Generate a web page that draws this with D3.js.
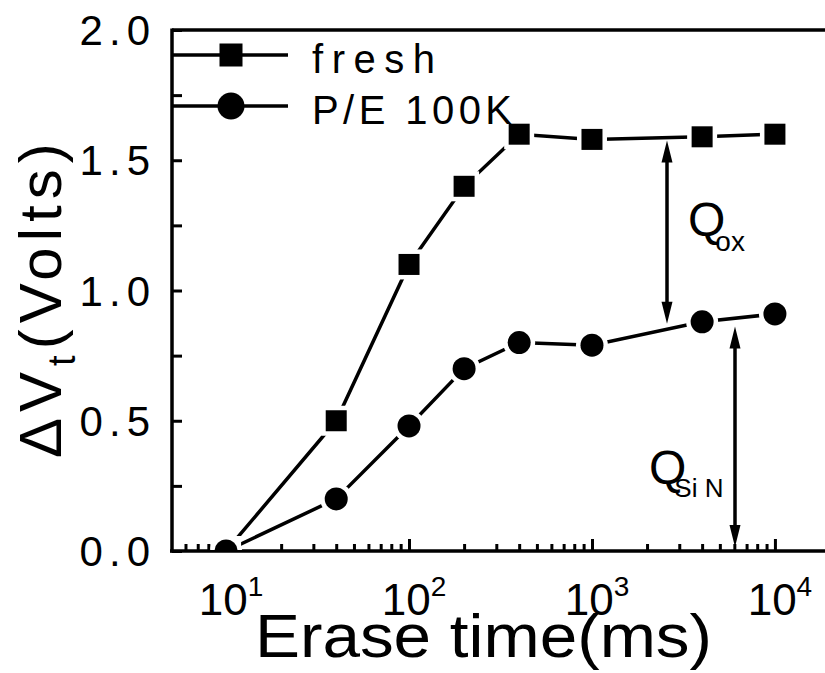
<!DOCTYPE html>
<html>
<head>
<meta charset="utf-8">
<script src="https://cdn.jsdelivr.net/npm/d3@7"></script>
<style>
  body { margin: 0; background: #fff; }
  text { font-family: "Liberation Sans", Arial, sans-serif; fill: #000; }
</style>
</head>
<body>
<div id="canvas"></div>
<script>
const width = 825;
const height = 673;

// data
const eraseTime = [10, 40, 100, 200, 400, 1000, 4000, 10000];
const fresh = [0.0, 0.5, 1.1, 1.4, 1.6, 1.58, 1.59, 1.6];
const pe100k = [0.0, 0.2, 0.48, 0.7, 0.8, 0.79, 0.88, 0.91];
const seriesNames = ["fresh", "P/E 100K"];
const yTicks = [0, 0.5, 1.0, 1.5, 2.0];
const yMinor = [0.25, 0.75, 1.25, 1.75];
const xDecades = [10, 100, 1000, 10000];

const svg = d3.select("#canvas")
    .append("svg")
    .attr("width", width)
    .attr("height", height);

const x = d3.scaleLog().domain([5, 20000]).range([171, 830]);
const y = d3.scaleLinear().domain([0, 2]).range([551, 30]);

svg.append("defs").append("clipPath")
    .attr("id", "plotclip")
    .append("rect")
    .attr("x", 172).attr("y", 20)
    .attr("width", 700).attr("height", 530);

// minor ticks on the log axis
let xMinor = [];
[1, 10, 100, 1000, 10000].forEach(function(d) {
    for (let k = 2; k <= 9; k++) {
        let v = d * k;
        if (v > 5 && v < 20000) xMinor.push(v);
    }
});

// x axis (ticks inside)
const xAxis = svg.append("g")
    .attr("transform", `translate(0,${y(0)})`);

xAxis.call(d3.axisBottom(x).tickValues(xDecades).tickSize(-12).tickFormat(""));
xAxis.call(g => g.select(".domain").remove());
xAxis.selectAll(".tick line").attr("stroke", "#000").attr("stroke-width", 3);

const xAxisMinor = svg.append("g")
    .attr("transform", `translate(0,${y(0)})`);
xAxisMinor.call(d3.axisBottom(x).tickValues(xMinor).tickSize(-7).tickFormat(""));
xAxisMinor.call(g => g.select(".domain").remove());
xAxisMinor.selectAll(".tick line").attr("stroke", "#000").attr("stroke-width", 3);

svg.append("line")
    .attr("x1", 170).attr("x2", width)
    .attr("y1", y(0)).attr("y2", y(0))
    .attr("stroke", "#000").attr("stroke-width", 3.5);

// x tick labels 10^n
xDecades.forEach(function(d, i) {
    let t = svg.append("text")
        .attr("x", x(d) + 5)
        .attr("y", 615)
        .attr("text-anchor", "middle")
        .attr("font-size", 44);
    t.append("tspan").text("10");
    t.append("tspan")
        .attr("font-size", 28)
        .attr("dy", -19)
        .text(String(Math.round(Math.log10(d))));
});

// y axis
const yAxis = svg.append("g")
    .attr("transform", "translate(172,0)");
yAxis.call(d3.axisRight(y).tickValues(yTicks.concat(yMinor)).tickSize(10).tickFormat(""));
yAxis.call(g => g.select(".domain").remove());
yAxis.selectAll(".tick line").attr("stroke", "#000").attr("stroke-width", 3);

svg.append("line")
    .attr("x1", 172).attr("x2", 172)
    .attr("y1", y(2) - 1.5).attr("y2", y(0) + 1.5)
    .attr("stroke", "#000").attr("stroke-width", 3.5);

// top frame line
svg.append("line")
    .attr("x1", 172).attr("x2", width)
    .attr("y1", y(2)).attr("y2", y(2))
    .attr("stroke", "#000").attr("stroke-width", 3.5);

svg.selectAll(".ylabel")
    .data(yTicks)
    .enter()
    .append("text")
    .attr("class", "ylabel")
    .attr("x", 156)
    .attr("y", d => y(d) + 15)
    .attr("text-anchor", "end")
    .attr("font-size", 42)
    .attr("letter-spacing", 6)
    .text(d => d.toFixed(1));

// axis titles
svg.append("text")
    .attr("x", 255)
    .attr("y", 657)
    .attr("font-size", 62)
    .attr("textLength", 457)
    .attr("lengthAdjust", "spacingAndGlyphs")
    .text("Erase time(ms)");

const yTitle = svg.append("text")
    .attr("transform", "translate(61,458)rotate(-90)")
    .attr("font-size", 60)
    .attr("letter-spacing", 6);
yTitle.append("tspan").text("ΔV");
yTitle.append("tspan").attr("font-size", 38).attr("dy", 14).text("t");
yTitle.append("tspan").attr("dy", -14).text("(Volts)");

// series
const plot = svg.append("g").attr("clip-path", "url(#plotclip)");

const line = d3.line()
    .x(d => x(d[0]))
    .y(d => y(d[1]));

const freshData = eraseTime.map((t, i) => [t, fresh[i]]);
const peData = eraseTime.map((t, i) => [t, pe100k[i]]);

plot.append("path")
    .datum(freshData)
    .attr("d", line)
    .attr("fill", "none")
    .attr("stroke", "#000")
    .attr("stroke-width", 3.5);

plot.append("path")
    .datum(peData)
    .attr("d", line)
    .attr("fill", "none")
    .attr("stroke", "#000")
    .attr("stroke-width", 3.5);

// square markers with white halo to leave gaps in the line
plot.selectAll(".sqhalo")
    .data(freshData)
    .enter()
    .append("rect")
    .attr("x", d => x(d[0]) - 15)
    .attr("y", d => y(d[1]) - 15)
    .attr("width", 30)
    .attr("height", 30)
    .attr("fill", "#fff");

plot.selectAll(".sq")
    .data(freshData)
    .enter()
    .append("rect")
    .attr("x", d => x(d[0]) - 10.5)
    .attr("y", d => y(d[1]) - 10.5)
    .attr("width", 21)
    .attr("height", 21)
    .attr("fill", "#000");

plot.selectAll(".cihalo")
    .data(peData)
    .enter()
    .append("circle")
    .attr("cx", d => x(d[0]))
    .attr("cy", d => y(d[1]))
    .attr("r", 16)
    .attr("fill", "#fff");

plot.selectAll(".ci")
    .data(peData)
    .enter()
    .append("circle")
    .attr("cx", d => x(d[0]))
    .attr("cy", d => y(d[1]))
    .attr("r", 11.5)
    .attr("fill", "#000");

// legend
svg.append("line")
    .attr("x1", 172).attr("x2", 288)
    .attr("y1", 55).attr("y2", 55)
    .attr("stroke", "#000").attr("stroke-width", 3.5);
svg.append("rect")
    .attr("x", 231 - 11.5).attr("y", 55 - 11.5)
    .attr("width", 23).attr("height", 23)
    .attr("fill", "#000");
svg.append("text")
    .attr("x", 312).attr("y", 73)
    .attr("font-size", 40)
    .attr("textLength", 123)
    .attr("lengthAdjust", "spacing")
    .text(seriesNames[0]);

svg.append("line")
    .attr("x1", 172).attr("x2", 288)
    .attr("y1", 106).attr("y2", 106)
    .attr("stroke", "#000").attr("stroke-width", 3.5);
svg.append("circle")
    .attr("cx", 231).attr("cy", 106)
    .attr("r", 13.5)
    .attr("fill", "#000");
svg.append("text")
    .attr("x", 312).attr("y", 124)
    .attr("font-size", 40)
    .attr("textLength", 200)
    .attr("lengthAdjust", "spacing")
    .text(seriesNames[1]);

// double arrows
function doubleArrow(xp, y1, y2) {
    svg.append("line")
        .attr("x1", xp).attr("x2", xp)
        .attr("y1", y1 + 15).attr("y2", y2 - 15)
        .attr("stroke", "#000").attr("stroke-width", 3.5);
    svg.append("path")
        .attr("d", `M${xp},${y1}L${xp - 5.5},${y1 + 22}L${xp + 5.5},${y1 + 22}Z`)
        .attr("fill", "#000");
    svg.append("path")
        .attr("d", `M${xp},${y2}L${xp - 5.5},${y2 - 22}L${xp + 5.5},${y2 - 22}Z`)
        .attr("fill", "#000");
}

doubleArrow(667, y(1.58) + 1, y(0.88) + 2);
doubleArrow(735, y(0.9) + 10, y(0) - 4);

// Q labels
const qox = svg.append("text")
    .attr("x", 688).attr("y", 236)
    .attr("font-size", 48);
qox.append("tspan").text("Q");
qox.append("tspan").attr("font-size", 28).attr("dx", -10).attr("dy", 15).text("ox");

const qsin = svg.append("text")
    .attr("x", 649).attr("y", 484)
    .attr("font-size", 48);
qsin.append("tspan").text("Q");
qsin.append("tspan").attr("font-size", 26).attr("dx", -12).attr("dy", 13).text("Si N");
</script>
</body>
</html>
